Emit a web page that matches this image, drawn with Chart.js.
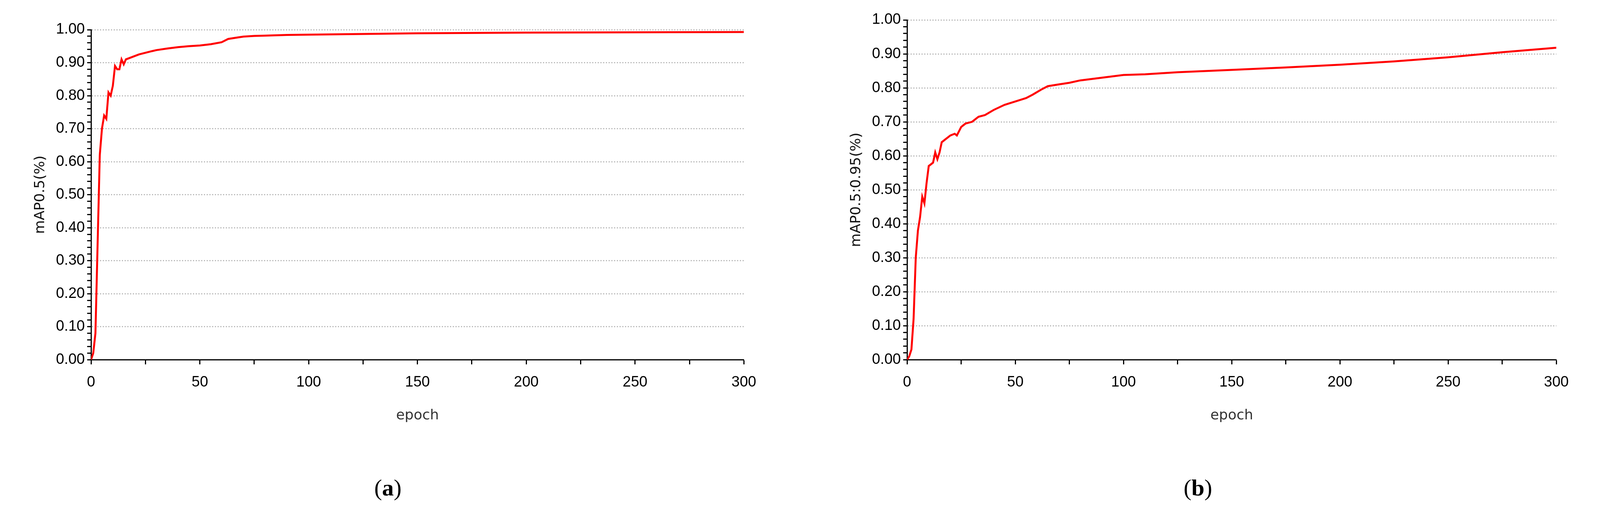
<!DOCTYPE html>
<html>
<head>
<meta charset="utf-8">
<script src="https://cdn.jsdelivr.net/npm/chart.js@4"></script>
<style>
  body { margin: 0; background: #fff; width: 4163px; height: 1342px; position: relative; overflow: hidden; }
  .box { position: absolute; top: 0; height: 1170px; }
  .cap { position: absolute; top: 1215px; font-family: "Liberation Serif", "DejaVu Serif", serif; font-size: 60px; }
</style>
</head>
<body>
<div class="box" style="left:0;width:1960px"><canvas id="chartA"></canvas></div>
<div class="box" style="left:2080px;width:1960px"><canvas id="chartB"></canvas></div>
<div class="cap" style="left:958px">(<b>a</b>)</div>
<div class="cap" style="left:3030px">(<b>b</b>)</div>
<script>
// mAP0.5 curve (a)
const epochsA = [0, 1, 2, 3, 4, 5, 6, 7, 8, 9, 10, 11, 12, 13, 14, 15, 16, 18, 20, 22, 25, 28, 30, 35, 40, 45, 50, 55, 60, 63, 67, 70, 75, 80, 90, 100, 125, 150, 200, 250, 300];
const mapA = [0, 0.02, 0.08, 0.35, 0.62, 0.70, 0.74, 0.73, 0.81, 0.80, 0.83, 0.89, 0.88, 0.88, 0.91, 0.895, 0.91, 0.915, 0.92, 0.925, 0.93, 0.935, 0.938, 0.943, 0.947, 0.95, 0.952, 0.956, 0.962, 0.972, 0.976, 0.979, 0.981, 0.982, 0.984, 0.985, 0.987, 0.989, 0.991, 0.992, 0.993];

// mAP0.5:0.95 curve (b)
const epochsB = [0, 1, 2, 3, 4, 5, 6, 7, 8, 9, 10, 12, 13, 14, 15, 16, 18, 20, 22, 23, 25, 27, 30, 33, 36, 40, 45, 50, 55, 58, 62, 65, 70, 75, 80, 90, 100, 110, 125, 150, 175, 200, 225, 250, 275, 300];
const mapB = [0, 0.01, 0.03, 0.12, 0.30, 0.38, 0.42, 0.48, 0.46, 0.52, 0.57, 0.58, 0.61, 0.59, 0.61, 0.64, 0.65, 0.66, 0.665, 0.66, 0.685, 0.695, 0.70, 0.715, 0.72, 0.735, 0.75, 0.76, 0.77, 0.78, 0.795, 0.805, 0.81, 0.815, 0.822, 0.83, 0.838, 0.84, 0.846, 0.853, 0.86, 0.868, 0.878, 0.89, 0.905, 0.918];

const tickFont = { family: '"Liberation Sans Narrow", "Liberation Sans", sans-serif', size: 38 };
const titleFont = { family: '"DejaVu Sans", Verdana, sans-serif', size: 36 };

function makeChart(id, xs, ys, yTitle, pad) {
  const isMajor = v => Math.abs(Math.round(v * 10) - v * 10) < 1e-6;
  new Chart(document.getElementById(id), {
    type: 'line',
    data: {
      datasets: [{
        data: xs.map((x, i) => ({ x: x, y: ys[i] })),
        borderColor: '#ff0000',
        borderWidth: 5,
        pointRadius: 0,
        tension: 0,
        fill: false
      }]
    },
    options: {
      responsive: true,
      maintainAspectRatio: false,
      animation: false,
      layout: { padding: pad },
      plugins: { legend: { display: false }, tooltip: { enabled: false } },
      scales: {
        x: {
          type: 'linear', min: 0, max: 300,
          ticks: {
            stepSize: 25, color: '#000', font: tickFont, padding: 24,
            callback: v => (v % 50 === 0 ? v : '')
          },
          grid: { drawOnChartArea: false, tickColor: '#000', tickLength: 12, tickWidth: 3 },
          border: { color: '#000', width: 3 },
          title: { display: true, text: 'epoch', color: '#333', font: titleFont, padding: { top: 16 } }
        },
        y: {
          min: 0, max: 1,
          ticks: {
            stepSize: 0.02, color: '#000', font: tickFont, padding: 6, autoSkip: false,
            callback: v => (isMajor(v) ? v.toFixed(2) : '')
          },
          grid: {
            color: ctx => (isMajor(ctx.tick.value) && ctx.tick.value > 0 ? '#bbbbbb' : 'rgba(0,0,0,0)'),
            lineWidth: 3,
            tickColor: '#000', tickLength: 10, tickWidth: 3
          },
          border: { color: '#000', width: 3, dash: [3, 4] },
          title: { display: true, text: yTitle, color: '#111', font: titleFont, padding: { bottom: 12 } }
        }
      }
    }
  });
}

makeChart('chartA', epochsA, mapA, 'mAP0.5(%)', { top: 76, right: 12, left: 78, bottom: 80 });
makeChart('chartB', epochsB, mapB, 'mAP0.5:0.95(%)', { top: 51, right: 6, left: 87, bottom: 80 });
</script>
</body>
</html>
